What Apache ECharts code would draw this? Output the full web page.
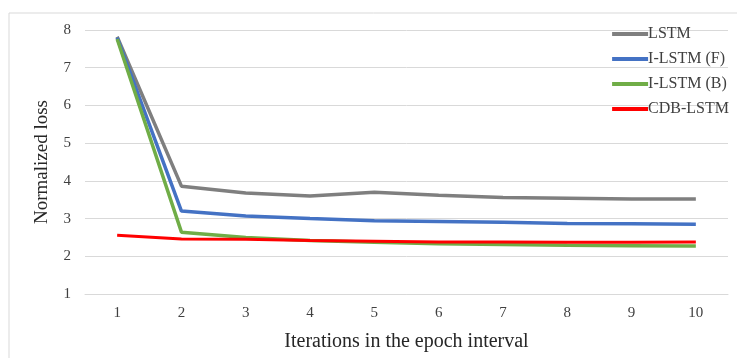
<!DOCTYPE html>
<html>
<head>
<meta charset="utf-8">
<script src="https://cdn.jsdelivr.net/npm/echarts@6/dist/echarts.min.js"></script>
<style>
  html, body { margin: 0; padding: 0; background: #fff; }
  #chart { width: 737px; height: 358px; }
</style>
</head>
<body>
<div id="chart"></div>
<script>
// values
var iterations = ['1', '2', '3', '4', '5', '6', '7', '8', '9', '10'];
var lstm   = [7.82, 3.86, 3.68, 3.60, 3.70, 3.62, 3.56, 3.54, 3.52, 3.52];
var ilstmF = [7.80, 3.20, 3.07, 3.00, 2.94, 2.92, 2.90, 2.87, 2.86, 2.85];
var ilstmB = [7.76, 2.64, 2.50, 2.42, 2.37, 2.33, 2.31, 2.29, 2.28, 2.27];
var cdb    = [2.56, 2.46, 2.45, 2.42, 2.40, 2.38, 2.38, 2.37, 2.37, 2.38];

var serif = '"Liberation Serif", "Times New Roman", serif';

function line(name, data, color, width) {
  return {
    name: name,
    type: 'line',
    data: data,
    symbol: 'none',
    lineStyle: { color: color, width: width },
    itemStyle: { color: color }
  };
}

var chart = echarts.init(document.getElementById('chart'));
chart.setOption({
  animation: false,
  graphic: [{
    type: 'rect',
    shape: { x: 9, y: 13, width: 800, height: 400 },
    style: { fill: 'none', stroke: '#d9d9d9', lineWidth: 1 },
    z: -1
  }],
  legend: {
    orient: 'vertical',
    right: 8,
    top: 26,
    padding: 0,
    itemWidth: 36,
    itemHeight: 4,
    itemGap: 9,
    icon: 'rect',
    textStyle: { fontFamily: serif, fontSize: 16, color: '#404040', padding: [0, 0, 0, -5] },
    data: ['LSTM', 'I-LSTM (F)', 'I-LSTM (B)', 'CDB-LSTM']
  },
  grid: { left: 85, right: 9, top: 30, bottom: 64 },
  xAxis: {
    type: 'category',
    data: iterations,
    boundaryGap: true,
    name: 'Iterations in the epoch interval',
    nameLocation: 'middle',
    nameGap: 38,
    nameTextStyle: { fontFamily: serif, fontSize: 20, color: '#262626' },
    axisLine: { show: true, lineStyle: { color: '#d9d9d9' } },
    axisTick: { show: false },
    axisLabel: { fontFamily: serif, fontSize: 15, color: '#404040', margin: 12 }
  },
  yAxis: {
    type: 'value',
    min: 1,
    max: 8,
    interval: 1,
    name: 'Normalized loss',
    nameLocation: 'middle',
    nameGap: 33,
    nameTextStyle: { fontFamily: serif, fontSize: 19, color: '#262626' },
    axisLine: { show: false },
    axisTick: { show: false },
    axisLabel: { fontFamily: serif, fontSize: 15, color: '#404040', margin: 14 },
    splitLine: { lineStyle: { color: '#d9d9d9', width: 1 } }
  },
  series: [
    line('LSTM', lstm, '#7f7f7f', 3.5),
    line('I-LSTM (F)', ilstmF, '#4472c4', 3.5),
    line('I-LSTM (B)', ilstmB, '#70ad47', 3.5),
    line('CDB-LSTM', cdb, '#ff0000', 3)
  ]
});
</script>
</body>
</html>
